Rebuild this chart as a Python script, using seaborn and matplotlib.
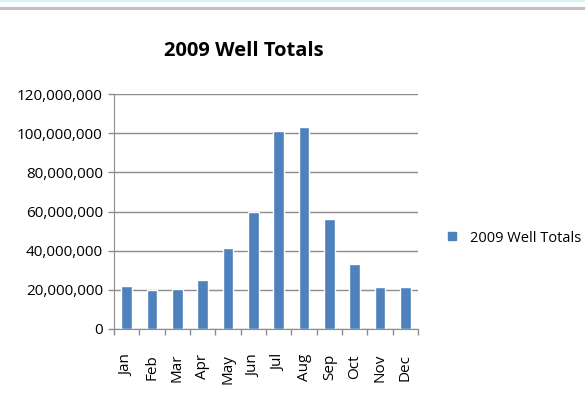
import matplotlib
matplotlib.use("Agg")
import matplotlib.pyplot as plt
import seaborn as sns
import pandas as pd
import numpy as np
from matplotlib.ticker import FuncFormatter, FixedLocator
from matplotlib.lines import Line2D

months = ["Jan", "Feb", "Mar", "Apr", "May", "Jun", "Jul", "Aug", "Sep", "Oct", "Nov", "Dec"]
totals = [22.0e6, 19.8e6, 20.6e6, 25.0e6, 41.4e6, 59.9e6, 101.3e6, 103.3e6, 56.2e6, 33.0e6, 21.3e6, 21.3e6]
series_name = "2009 Well Totals"
title = "2009 Well Totals"

sns.set_style("white")
plt.rcParams['font.family'] = ['Open Sans', 'DejaVu Sans']
plt.rcParams['text.color'] = 'black'
plt.rcParams['xtick.labelcolor'] = 'black'
plt.rcParams['ytick.labelcolor'] = 'black'

df = pd.DataFrame({"Month": months, "Total": totals, "Series": series_name})

fig = plt.figure(figsize=(5.85, 4.05), dpi=100)
ax = fig.add_axes([114/585, 1 - 329/405, (418 - 114)/585, (329 - 94)/405])

sns.barplot(data=df, x="Month", y="Total", hue="Series", palette=["#4F81BD"],
            width=0.43, ax=ax, legend=False, saturation=1)

ax.set_ylim(0, 120e6)
ax.set_xlim(-0.5, len(months) - 0.5)
ax.set_yticks(np.arange(0, 120e6 + 1, 20e6))
ax.yaxis.set_major_formatter(FuncFormatter(lambda v, p: f"{int(v):,}"))
ax.yaxis.grid(True, color="#8c8c8c", linewidth=1)
ax.set_axisbelow(True)
ax.set_xlabel("")
ax.set_ylabel("")

for s in ["top", "right"]:
    ax.spines[s].set_visible(False)
ax.spines["left"].set_color("#8c8c8c")
ax.spines["bottom"].set_color("#8c8c8c")

ax.tick_params(axis="y", which="major", length=4, width=1, color="#8c8c8c",
               labelsize=11, labelcolor="black", direction="out", left=True, pad=4)
ax.set_xticks(range(len(months)))
ax.set_xticklabels(months, rotation=90, fontsize=11, color="black")
ax.tick_params(axis="x", which="major", length=0, pad=18)
ax.xaxis.set_minor_locator(FixedLocator(np.arange(-0.5, len(months), 1.0)))
ax.tick_params(axis="x", which="minor", length=4, width=1, color="#8c8c8c",
               direction="out", bottom=True)

fig.text(244/585, 1 - 50.5/405, title, ha="center", va="center",
         fontsize=14.5, fontweight="bold", color="black")

handle = Line2D([], [], marker="s", linestyle="", markersize=5.5,
                markerfacecolor="#4F81BD", markeredgecolor="#4F81BD")
fig.legend([handle], [series_name], loc="center left",
           bbox_to_anchor=(432/585, 1 - 238/405), frameon=False,
           fontsize=10.5, handletextpad=0.7, handlelength=1.0, labelcolor="black")

# window border lines at top
fig.add_artist(Line2D([0, 1], [1 - 0.5/405, 1 - 0.5/405], color="#d6f3f7", linewidth=1.5))
fig.add_artist(Line2D([0, 1], [1 - 8/405, 1 - 8/405], color="#c0c0c0", linewidth=2.2))

fig.savefig("out.png", dpi=100)
